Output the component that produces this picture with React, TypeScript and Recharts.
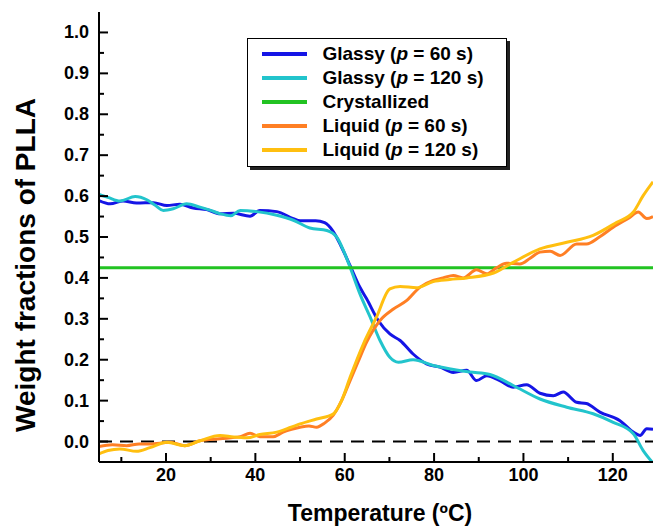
import { LineChart, Line, XAxis, YAxis, ReferenceLine, Legend } from 'recharts';

const FONT = '"Liberation Sans", Arial, Helvetica, sans-serif';

// axis ticks (major + minor)
const xTicks = [10, 20, 30, 40, 50, 60, 70, 80, 90, 100, 110, 120];
const yTicks = [0, 0.05, 0.1, 0.15, 0.2, 0.25, 0.3, 0.35, 0.4, 0.45, 0.5, 0.55, 0.6, 0.65, 0.7, 0.75, 0.8, 0.85, 0.9, 0.95, 1.0];

// Glassy (p = 60 s)
const glassy60T = [5, 7.5, 10.4, 13.4, 17.2, 20.2, 23.1, 26.1, 29.1, 32.1, 35.1, 38.8, 41, 44.8, 48.5, 50, 53.5, 55.5, 57.4, 59.3, 61.2, 63.4, 64.9, 67.5, 70.1, 72.4, 75.3, 78.3, 81.3, 84.3, 87.3, 89.5, 91.8, 94.7, 97.7, 100.7, 103.7, 106.7, 108.9, 111.9, 114.1, 117.1, 121.6, 124.6, 126.1, 127.6, 129];
const glassy60W = [0.589, 0.581, 0.588, 0.583, 0.584, 0.577, 0.58, 0.571, 0.567, 0.557, 0.558, 0.551, 0.565, 0.562, 0.545, 0.54, 0.54, 0.535, 0.514, 0.475, 0.43, 0.377, 0.349, 0.296, 0.263, 0.247, 0.214, 0.19, 0.182, 0.169, 0.174, 0.149, 0.161, 0.149, 0.133, 0.139, 0.118, 0.112, 0.121, 0.096, 0.093, 0.072, 0.051, 0.023, 0.015, 0.031, 0.03];

// Glassy (p = 120 s)
const glassy120T = [5, 7, 9.7, 13.1, 15.7, 17.5, 19.4, 21.6, 24.6, 27.6, 30, 32.1, 34.5, 36.6, 40.3, 44.8, 48.5, 52.2, 56, 58.2, 59.8, 61.2, 63.4, 65.7, 67.9, 70.1, 72, 75.3, 79.8, 85, 88, 92.5, 97.7, 103.7, 109.7, 115.6, 120.1, 124.6, 126.8, 128.8];
const glassy120W = [0.604, 0.597, 0.588, 0.599, 0.591, 0.578, 0.565, 0.569, 0.581, 0.573, 0.565, 0.557, 0.552, 0.565, 0.562, 0.553, 0.541, 0.522, 0.516, 0.5, 0.465, 0.426, 0.361, 0.304, 0.247, 0.206, 0.194, 0.2, 0.186, 0.175, 0.17, 0.164, 0.137, 0.104, 0.084, 0.068, 0.047, 0.019, -0.022, -0.05];

// Crystallized
const crystT = [5, 129];
const crystW = [0.425, 0.425];

// Liquid (p = 60 s)
const liquid60T = [5, 8, 11.2, 14, 16.4, 20.9, 24.2, 27.6, 32.1, 36.6, 38.8, 41, 44, 46.2, 48.1, 50, 52, 53.7, 55.5, 57.4, 59.3, 61.2, 63, 64.9, 67.9, 70.9, 73.9, 76.8, 79.8, 82, 84.3, 86.5, 89.5, 91.8, 94, 96.2, 99.2, 101.5, 103.7, 106, 108.2, 111.9, 114.1, 117, 120.1, 123.8, 125.7, 127.6, 129];
const liquid60W = [-0.012, -0.008, -0.01, -0.006, -0.006, -0.002, -0.01, 0.002, 0.007, 0.012, 0.02, 0.012, 0.012, 0.023, 0.03, 0.035, 0.038, 0.035, 0.045, 0.064, 0.1, 0.149, 0.195, 0.243, 0.296, 0.324, 0.345, 0.377, 0.394, 0.4, 0.406, 0.4, 0.42, 0.41, 0.425, 0.436, 0.434, 0.448, 0.463, 0.465, 0.455, 0.483, 0.483, 0.5, 0.524, 0.548, 0.561, 0.545, 0.55];

// Liquid (p = 120 s)
const liquid120T = [5, 7, 9.7, 13.4, 16.4, 20.2, 24.2, 27.6, 32.1, 35.1, 38.1, 41, 44.8, 48, 50, 53.7, 57.4, 59.3, 61.2, 64.2, 67.1, 70.1, 72.4, 76.1, 79.8, 83.5, 87.3, 93.3, 97.7, 103.7, 109.7, 115.6, 120.9, 124.6, 126.8, 129];
const liquid120W = [-0.03, -0.022, -0.018, -0.024, -0.015, -0.002, -0.01, 0.002, 0.015, 0.011, 0.009, 0.017, 0.023, 0.035, 0.043, 0.055, 0.067, 0.1, 0.157, 0.239, 0.304, 0.373, 0.379, 0.376, 0.391, 0.396, 0.4, 0.412, 0.438, 0.471, 0.487, 0.504, 0.536, 0.561, 0.601, 0.635];

const zip = (t: number[], w: number[]) => t.map((v, i) => ({ t: v, w: w[i] }));

const SERIES = [
  { key: 'g60', pre: 'Glassy (', it: 'p', post: ' = 60 s)', color: '#1515e6', data: zip(glassy60T, glassy60W) },
  { key: 'g120', pre: 'Glassy (', it: 'p', post: ' = 120 s)', color: '#22c4cc', data: zip(glassy120T, glassy120W) },
  { key: 'cr', pre: 'Crystallized', it: '', post: '', color: '#22c322', data: zip(crystT, crystW) },
  { key: 'l60', pre: 'Liquid (', it: 'p', post: ' = 60 s)', color: '#ff7f24', data: zip(liquid60T, liquid60W) },
  { key: 'l120', pre: 'Liquid (', it: 'p', post: ' = 120 s)', color: '#ffbf10', data: zip(liquid120T, liquid120W) },
];

const isMajorX = (v: number) => v % 20 === 0;
const isMajorY = (v: number) => Math.round(v * 20) % 2 === 0;

function BottomTick({ x, y, payload }: any) {
  const major = isMajorX(payload.value);
  return (
    <g>
      <line x1={x} x2={x} y1={y} y2={y - (major ? 9 : 5)} stroke="#000" strokeWidth={2} />
      {major && (
        <text x={x} y={y + 19} textAnchor="middle" fontSize={18} fontWeight="bold" fontFamily={FONT} fill="#000">
          {payload.value}
        </text>
      )}
    </g>
  );
}

function TopTick({ x, y, payload }: any) {
  const major = isMajorX(payload.value);
  return <line x1={x} x2={x} y1={y} y2={y + (major ? 9 : 5)} stroke="#000" strokeWidth={2} />;
}

function LeftTick({ x, y, payload }: any) {
  const major = isMajorY(payload.value);
  return (
    <g>
      <line x1={x} x2={x + (major ? 9 : 5)} y1={y} y2={y} stroke="#000" strokeWidth={2} />
      {major && (
        <text x={x - 10} y={y + 6} textAnchor="end" fontSize={18} fontWeight="bold" fontFamily={FONT} fill="#000">
          {payload.value.toFixed(1)}
        </text>
      )}
    </g>
  );
}

function RightTick({ x, y, payload }: any) {
  const major = isMajorY(payload.value);
  return <line x1={x} x2={x - (major ? 9 : 5)} y1={y} y2={y} stroke="#000" strokeWidth={2} />;
}

function LegendBox() {
  return (
    <div
      style={{
        width: 260,
        height: 129,
        boxSizing: 'border-box',
        border: '1.5px solid #000',
        boxShadow: '3px 3px 0 #222',
        background: '#fff',
        paddingTop: 2.5,
        fontFamily: FONT,
      }}
    >
      {SERIES.map((s) => (
        <div key={s.key} style={{ display: 'flex', alignItems: 'center', height: 24 }}>
          <span style={{ marginLeft: 13.5, width: 45, height: 4, background: s.color, display: 'inline-block' }} />
          <span style={{ marginLeft: 16, fontSize: 19, fontWeight: 'bold', color: '#000', whiteSpace: 'nowrap' }}>
            {s.pre}
            {s.it && <i>{s.it}</i>}
            {s.post}
          </span>
        </div>
      ))}
    </div>
  );
}

export default function App() {
  return (
    <div style={{ position: 'absolute', left: 0, top: 0, width: 653, height: 528, background: '#fff' }}>
      <LineChart width={653} height={528} margin={{ top: 12, right: 0, bottom: 0, left: 0 }}>
        <XAxis
          xAxisId="b"
          dataKey="t"
          type="number"
          domain={[5, 129]}
          allowDataOverflow
          ticks={xTicks}
          interval={0}
          tickSize={0}
          tickMargin={0}
          tickLine={false}
          tick={<BottomTick />}
          axisLine={{ stroke: '#000', strokeWidth: 2 }}
          height={66}
          label={{
            content: (p: any) => (
              <text
                x={p.viewBox.x + p.viewBox.width / 2 + 4}
                y={p.viewBox.y + 59}
                textAnchor="middle"
                fontSize={23}
                fontWeight="bold"
                fontFamily={FONT}
                fill="#000"
              >
                Temperature (ºC)
              </text>
            ),
          }}
        />
        <XAxis
          xAxisId="t"
          orientation="top"
          dataKey="t"
          type="number"
          domain={[5, 129]}
          allowDataOverflow
          ticks={xTicks}
          interval={0}
          tickSize={0}
          tickMargin={0}
          tickLine={false}
          tick={<TopTick />}
          axisLine={{ stroke: '#000', strokeWidth: 2 }}
          height={0}
        />
        <YAxis
          yAxisId="l"
          type="number"
          domain={[-0.05, 1.05]}
          allowDataOverflow
          ticks={yTicks}
          interval={0}
          tickSize={0}
          tickMargin={0}
          tickLine={false}
          tick={<LeftTick />}
          axisLine={{ stroke: '#000', strokeWidth: 2 }}
          width={99}
          label={{
            content: (p: any) => {
              const x = p.viewBox.x + 35;
              const y = 265;
              return (
                <text
                  x={x}
                  y={y}
                  transform={`rotate(-90, ${x}, ${y})`}
                  textAnchor="middle"
                  fontSize={28}
                  fontWeight="bold"
                  fontFamily={FONT}
                  fill="#000"
                >
                  Weight fractions of PLLA
                </text>
              );
            },
          }}
        />
        <YAxis
          yAxisId="r"
          orientation="right"
          type="number"
          domain={[-0.05, 1.05]}
          allowDataOverflow
          ticks={yTicks}
          interval={0}
          tickSize={0}
          tickMargin={0}
          tickLine={false}
          tick={<RightTick />}
          axisLine={false}
          width={0}
        />
        <ReferenceLine xAxisId="b" yAxisId="l" y={0} stroke="#000" strokeWidth={2} strokeDasharray="13 8" />
        {SERIES.map((s) => (
          <Line
            key={s.key}
            xAxisId="b"
            yAxisId="l"
            data={s.data}
            dataKey="w"
            type="monotone"
            stroke={s.color}
            strokeWidth={3}
            dot={false}
            activeDot={false}
            isAnimationActive={false}
          />
        ))}
        <Legend
          layout="vertical"
          align="center"
          verticalAlign="middle"
          content={() => <LegendBox />}
          wrapperStyle={{ left: 247, top: 38, width: 260, height: 129 }}
        />
      </LineChart>
    </div>
  );
}
